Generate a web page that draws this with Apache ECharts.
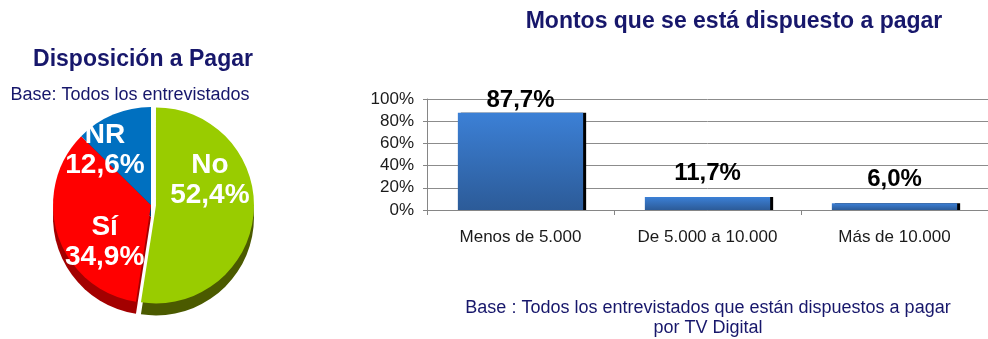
<!DOCTYPE html>
<html>
<head>
<meta charset="utf-8">
<script src="https://cdn.jsdelivr.net/npm/echarts@6/dist/echarts.min.js"></script>
<style>
  html, body { margin: 0; padding: 0; background: #fff; }
  #chart { width: 988px; height: 339px; }
</style>
</head>
<body>
<div id="chart"></div>
<script>
// Disposición a pagar (pie)
const pieNames = ['No', 'Sí', 'NR'];
const pieValues = [52.4, 34.9, 12.6];

// Montos que se está dispuesto a pagar (bars)
const amountCategories = ['Menos de 5.000', 'De 5.000 a 10.000', 'Más de 10.000'];
const amountValues = [87.7, 11.7, 6.0];
const yTicks = [0, 20, 40, 60, 80, 100];

const NAVY = '#17176b';
const FONT = '"Liberation Sans", Arial, sans-serif';

const topColors = ['#99cc00', '#ff0000', '#0070c0'];
const sideColors = ['#4b5a00', '#a30000', '#003a70'];

const comma = v => v.toFixed(1).replace('.', ',') + '%';

// Nudges applied to the inside pie labels
const pieLabelShift = [[2, -29], [3, 21], [-26, -7]];

const chart = echarts.init(document.getElementById('chart'), null, { renderer: 'canvas' });

const pieCenter = [151, 205];
const pieRadius = 98;
const depth = 12;

chart.setOption({
  animation: false,
  backgroundColor: '#fff',
  textStyle: { fontFamily: FONT },
  graphic: [
    { type: 'text', x: 143, y: 60, style: { text: 'Disposición a Pagar', font: 'bold 23px ' + FONT, fill: NAVY, align: 'center', verticalAlign: 'middle' } },
    { type: 'text', x: 130, y: 95, style: { text: 'Base: Todos los entrevistados', font: '18px ' + FONT, fill: NAVY, align: 'center', verticalAlign: 'middle' } },
    { type: 'text', x: 734, y: 22, style: { text: 'Montos que se está dispuesto a pagar', font: 'bold 23px ' + FONT, fill: NAVY, align: 'center', verticalAlign: 'middle' } },
    { type: 'text', x: 708, y: 318, style: { text: 'Base : Todos los entrevistados que están dispuestos a pagar\npor TV Digital', font: '18px ' + FONT, fill: NAVY, align: 'center', verticalAlign: 'middle', lineHeight: 20 } }
  ],
  grid: { left: 427, top: 99, width: 570, height: 111 },
  xAxis: {
    type: 'category',
    data: amountCategories,
    axisLine: { lineStyle: { color: '#868686', width: 1 } },
    axisTick: { show: true, length: 5, alignWithLabel: false, lineStyle: { color: '#868686' } },
    axisLabel: { color: '#1a1a1a', fontSize: 17, margin: 19, fontFamily: FONT }
  },
  yAxis: {
    type: 'value',
    min: yTicks[0],
    max: yTicks[yTicks.length - 1],
    interval: yTicks[1] - yTicks[0],
    axisLine: { show: true, lineStyle: { color: '#868686' } },
    axisTick: { show: true, length: 4, lineStyle: { color: '#868686' } },
    axisLabel: { color: '#1a1a1a', fontSize: 17, margin: 13, fontFamily: FONT, formatter: v => v + '%' },
    splitLine: { lineStyle: { color: '#8c8c8c', width: 1 } }
  },
  series: [
    {
      type: 'bar',
      barWidth: '67%',
      data: amountValues.map((v, i) => ({
        value: v,
        label: { distance: i === 0 ? 0 : 12 }
      })),
      itemStyle: {
        color: new echarts.graphic.LinearGradient(0, 0, 0, 1, [
          { offset: 0, color: '#3c80d6' },
          { offset: 1, color: '#2c5b98' }
        ]),
        shadowColor: '#000',
        shadowOffsetX: 3,
        shadowOffsetY: 0,
        shadowBlur: 0
      },
      label: {
        show: true,
        position: 'top',
        color: '#000',
        fontSize: 24,
        fontWeight: 'bold',
        fontFamily: FONT,
        formatter: p => comma(p.value)
      },
      emphasis: { disabled: true }
    },
    {
      // side wall of the pie
      type: 'pie',
      silent: true,
      center: [pieCenter[0], pieCenter[1] + depth],
      radius: pieRadius,
      startAngle: 90,
      selectedMode: 'single',
      selectedOffset: 5,
      label: { show: false },
      labelLine: { show: false },
      data: pieValues.map((v, i) => ({
        name: pieNames[i], value: v, selected: i === 0,
        itemStyle: { color: sideColors[i] }
      })),
      z: 1
    },
    {
      type: 'pie',
      silent: true,
      center: pieCenter,
      radius: pieRadius,
      startAngle: 90,
      selectedMode: 'single',
      selectedOffset: 5,
      data: pieValues.map((v, i) => ({
        name: pieNames[i], value: v, selected: i === 0,
        itemStyle: { color: topColors[i] }
      })),
      label: {
        show: true,
        position: 'inside',
        color: '#fff',
        fontSize: 28,
        fontWeight: 'bold',
        fontFamily: FONT,
        lineHeight: 30,
        formatter: p => p.name + '\n' + comma(p.value)
      },
      labelLayout: p => ({ dx: pieLabelShift[p.dataIndex][0], dy: pieLabelShift[p.dataIndex][1] }),
      labelLine: { show: false },
      z: 2
    }
  ]
});
</script>
</body>
</html>
